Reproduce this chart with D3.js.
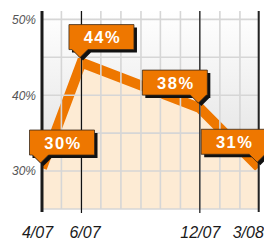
<!DOCTYPE html>
<html><head><meta charset="utf-8">
<script src="https://cdn.jsdelivr.net/npm/d3@7"></script>
<style>
html,body{margin:0;padding:0;background:#fff;}
svg{display:block;}
</style></head>
<body>
<svg id="c" width="264" height="240"></svg>
<script>
// ---- data ----
const dates = ["2007-04-01", "2007-06-01", "2007-12-01", "2008-03-01"];
const values = [30.4, 44.3, 38.3, 30.5];
const labels = ["30%", "44%", "38%", "31%"];
const xTickLabels = ["4/07", "6/07", "12/07", "3/08"];
const yTicks = [30, 40, 50];
const yTickLabels = ["30%", "40%", "50%"];
const yGrid = [25, 30, 35, 40, 45, 50];

const parse = d3.timeParse("%Y-%m-%d");
const pts = dates.map((d, i) => ({ date: parse(d), v: values[i], label: labels[i] }));

const L = 42, R = 258.7, T = 11, B = 209;
const svg = d3.select("#c");
const x = d3.scaleTime().domain([pts[0].date, pts[pts.length - 1].date]).range([L, R]);
const y = d3.scaleLinear().domain([25, 51.1]).range([B, T]);

const defs = svg.append("defs");
const g = defs.append("linearGradient").attr("id", "bg").attr("x1", 0).attr("y1", 0).attr("x2", 0).attr("y2", 1);
g.append("stop").attr("offset", "0%").attr("stop-color", "#ffffff");
g.append("stop").attr("offset", "100%").attr("stop-color", "#dadada");
defs.append("clipPath").attr("id", "clip").append("rect")
  .attr("x", L).attr("y", T).attr("width", R - L).attr("height", B - T);

// background
svg.append("rect").attr("x", L).attr("y", T).attr("width", R - L).attr("height", B - T).attr("fill", "url(#bg)");

const curve = d3.curveLinear;
const plot = svg.append("g").attr("clip-path", "url(#clip)");
plot.append("path").datum(pts)
  .attr("d", d3.area().x(d => x(d.date)).y0(B).y1(d => y(d.v)).curve(curve))
  .attr("fill", "#fdebd4");

// grid
const months = d3.timeMonth.range(pts[0].date, d3.timeMonth.offset(pts[pts.length - 1].date, 1));
svg.append("g").selectAll("line").data(months).join("line")
  .attr("x1", d => x(d)).attr("x2", d => x(d)).attr("y1", T).attr("y2", B)
  .attr("stroke", "#d6d6d6").attr("stroke-width", 1.6);
svg.append("g").selectAll("line").data(yGrid).join("line")
  .attr("x1", L).attr("x2", R).attr("y1", d => y(d)).attr("y2", d => y(d))
  .attr("stroke", "#d6d6d6").attr("stroke-width", 1.6);

// black vertical lines at data dates
svg.append("g").selectAll("line").data(pts.slice(1, -1)).join("line")
  .attr("x1", d => x(d.date)).attr("x2", d => x(d.date)).attr("y1", T).attr("y2", B + 4)
  .attr("stroke", "#111").attr("stroke-width", 1.2);
svg.append("line").attr("x1", R).attr("x2", R).attr("y1", T).attr("y2", B + 3)
  .attr("stroke", "#222").attr("stroke-width", 2);

// line
plot.append("path").datum(pts)
  .attr("d", d3.line().x(d => x(d.date)).y(d => y(d.v)).curve(curve))
  .attr("fill", "none").attr("stroke", "#ee7700").attr("stroke-width", 10)
  .attr("stroke-linejoin", "miter");

// left axis
svg.append("line").attr("x1", L).attr("x2", L).attr("y1", T).attr("y2", B + 3)
  .attr("stroke", "#1a1a1a").attr("stroke-width", 3);

// y labels
svg.append("g").selectAll("text").data(yTicks).join("text")
  .attr("x", 36).attr("y", d => y(d) + 4.3)
  .attr("text-anchor", "end")
  .attr("font-family", "Liberation Sans, Arial, sans-serif")
  .attr("font-style", "italic").attr("font-size", 12).attr("fill", "#555")
  .text((d, i) => yTickLabels[i]);

// x labels
const xAxis = d3.axisBottom(x).tickValues(pts.map(d => d.date))
  .tickFormat((d, i) => xTickLabels[i]).tickSize(0).tickPadding(0);
const xa = svg.append("g").attr("transform", `translate(0,${B})`).call(xAxis);
xa.select(".domain").remove();
const dxs = [-5, 3, 0, -11];
xa.selectAll("text")
  .attr("y", 29).attr("dy", 0)
  .attr("dx", (d, i) => dxs[i])
  .attr("font-family", "Liberation Sans, Arial, sans-serif")
  .attr("font-style", "italic").attr("font-size", 16).attr("fill", "#1a1a1a");

// callouts
const W = 65, H = 25, P = 8;
const cg = svg.append("g");
pts.forEach(d => {
  const tx = x(d.date) - 1.5, ty = y(d.v) - 5;
  const bb = ty - P;
  const bt = bb - H;
  const right = tx < (L + R) / 2;
  const bx = right ? tx - 11 : tx + 9 - W;
  const path = `M${bx},${bt}H${bx + W}V${bb}H${tx + P}L${tx},${ty}L${tx - P},${bb}H${bx}Z`;
  cg.append("path").attr("d", path).attr("transform", "translate(3,3)").attr("fill", "#111");
  cg.append("path").attr("d", path).attr("fill", "#ee7700").attr("stroke", "#3a2a1a").attr("stroke-width", 0.8);
  cg.append("text").attr("x", bx + W / 2 + 1).attr("y", bt + H / 2 + 6)
    .attr("text-anchor", "middle")
    .attr("font-family", "Liberation Sans, Arial, sans-serif")
    .attr("font-weight", "bold").attr("font-size", 16.5)
    .attr("letter-spacing", 1.5).attr("fill", "#fff")
    .text(d.label);
});
</script>
</body></html>
